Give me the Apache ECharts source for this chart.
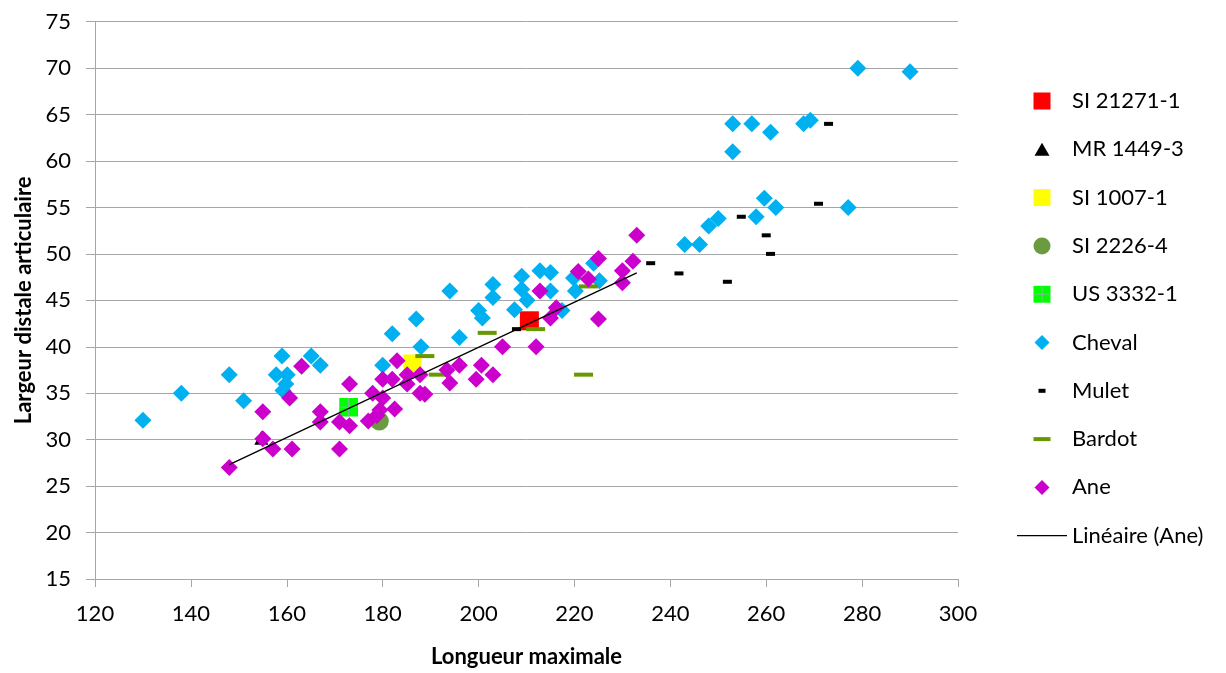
<!DOCTYPE html>
<html>
<head>
<meta charset="utf-8">
<script src="https://cdn.jsdelivr.net/npm/echarts@6/dist/echarts.min.js"></script>
<style>
  html, body { margin: 0; padding: 0; background: #fff; }
  #chart { width: 1226px; height: 673px; }
</style>
</head>
<body>
<div id="chart"></div>
<script>
// axis ranges
const xRange = [120, 300]
const xStep = 20
const yRange = [15, 75]
const yStep = 5

// single specimens
const si21271 = [[210.6, 42.8]]
const mr1449 = [[154.7, 30.2]]
const si1007 = [[186.2, 38.2]]
const si2226 = [[179.3, 32.0]]
const us3332 = [[172.9, 33.5]]

// reference groups
const cheval = [
  [130.0, 32.1], [138.0, 35.0], [148.0, 37.0], [151.0, 34.2], [159.0, 39.0], [165.1, 39.0],
  [167.0, 38.0], [157.8, 37.0], [160.1, 37.0], [159.8, 36.0], [159.2, 35.3],
  [182.0, 41.4], [187.0, 43.0], [196.0, 41.0], [188.0, 40.0], [180.0, 38.0], [194.0, 46.0],
  [200.0, 43.9], [200.8, 43.1], [203.0, 46.7], [203.0, 45.3], [207.5, 44.0], [209.0, 47.6],
  [209.0, 46.2], [210.1, 45.0], [212.8, 48.2], [215.0, 48.0], [215.0, 46.0], [217.4, 43.9],
  [219.8, 47.4], [220.2, 46.0], [224.0, 49.0], [225.2, 47.1],
  [243.0, 51.0], [246.1, 51.0], [248.0, 53.0], [250.0, 53.8], [253.0, 61.0], [253.0, 64.0],
  [257.0, 64.0], [257.9, 54.0], [259.6, 56.0], [260.9, 63.1], [262.0, 55.0], [267.8, 64.0],
  [269.2, 64.4], [277.1, 55.0], [279.1, 70.0], [290.0, 69.6],
]
const mulet = [
  [207.9, 41.9], [235.9, 49.0], [241.8, 47.9], [251.9, 47.0], [254.8, 54.0],
  [260.0, 52.0], [260.9, 50.0], [270.9, 55.4], [273.0, 64.0],
]
const bardot = [
  [188.8, 39.0], [191.6, 37.0], [201.8, 41.5], [211.9, 41.9], [221.9, 37.0], [222.9, 46.5],
]
const ane = [
  [148.0, 27.0], [155.0, 33.0], [155.0, 30.1], [157.1, 29.0], [160.6, 34.5], [161.1, 29.0],
  [163.1, 37.9], [167.0, 33.0], [167.0, 31.9], [171.0, 31.9], [171.0, 29.0], [173.1, 36.0],
  [173.1, 31.5], [177.0, 32.0], [177.9, 35.0], [178.8, 32.6], [179.4, 33.2], [180.0, 36.5],
  [180.0, 34.5], [182.0, 36.5], [182.5, 33.3], [183.0, 38.5], [185.1, 37.0], [185.1, 36.0],
  [187.8, 37.0], [187.8, 35.0], [188.8, 34.9], [193.4, 37.5], [194.0, 36.1], [196.0, 38.0],
  [199.5, 36.5], [200.6, 38.0], [203.0, 37.0], [205.0, 40.0], [212.0, 40.0], [212.8, 46.0],
  [215.0, 43.1], [216.2, 44.2], [220.8, 48.1], [222.9, 47.3], [225.0, 49.5], [225.0, 43.0],
  [230.0, 48.2], [230.0, 46.9], [232.2, 49.2], [233.0, 52.0],
]

const names = ['SI 21271-1', 'MR 1449-3', 'SI 1007-1', 'SI 2226-4', 'US 3332-1',
  'Cheval', 'Mulet', 'Bardot', 'Ane', 'Linéaire (Ane)']

// linear trendline (least squares) on Ane
function linearFit(pts) {
  const n = pts.length
  let sx = 0, sy = 0, sxx = 0, sxy = 0
  pts.forEach(([x, y]) => { sx += x; sy += y; sxx += x * x; sxy += x * y })
  const b = (n * sxy - sx * sy) / (n * sxx - sx * sx)
  const a = (sy - b * sx) / n
  const xs = pts.map((p) => p[0])
  const x0 = Math.min(...xs), x1 = Math.max(...xs)
  return [[x0, a + b * x0], [x1, a + b * x1]]
}
const trend = linearFit(ane)

function svg(inner, w, h) {
  return 'image://data:image/svg+xml;charset=utf-8,' + encodeURIComponent(
    `<svg xmlns="http://www.w3.org/2000/svg" width="${w}" height="${h}" viewBox="0 0 ${w} ${h}">${inner}</svg>`)
}
const crossSquare = (s) => svg(
  `<rect x="0" y="0" width="${s}" height="${s}" fill="#00ff00"/>` +
  `<line x1="${s / 2}" y1="0" x2="${s / 2}" y2="${s}" stroke="#8ab4a2" stroke-width="1"/>` +
  `<line x1="0" y1="${s / 2}" x2="${s}" y2="${s / 2}" stroke="#8ab4a2" stroke-width="1"/>`, s, s)

// legend icons, 50x18 box
const W = 50, H = 18
const legendIcons = {
  'SI 21271-1': svg('<rect x="16.5" y="0.5" width="17" height="17" fill="#ff0000"/>', W, H),
  'MR 1449-3': svg('<polygon points="25,2.5 32.5,15.5 17.5,15.5" fill="#000"/>', W, H),
  'SI 1007-1': svg('<rect x="16.5" y="0.5" width="17" height="17" fill="#ffff00"/>', W, H),
  'SI 2226-4': svg('<circle cx="25" cy="9" r="8.5" fill="#6b9b3f"/>', W, H),
  'US 3332-1': svg('<rect x="16.5" y="0.5" width="17" height="17" fill="#00ff00"/>' +
    '<line x1="25" y1="0.5" x2="25" y2="17.5" stroke="#8ab4a2"/><line x1="16.5" y1="9" x2="33.5" y2="9" stroke="#8ab4a2"/>', W, H),
  'Cheval': svg('<polygon points="25,1.5 32.5,9 25,16.5 17.5,9" fill="#00b0f0"/>', W, H),
  'Mulet': svg('<rect x="21.5" y="7" width="7" height="4" fill="#000"/>', W, H),
  'Bardot': svg('<rect x="16.5" y="7" width="17" height="4" fill="#669900"/>', W, H),
  'Ane': svg('<polygon points="25,1.5 32.5,9 25,16.5 17.5,9" fill="#cc00cc"/>', W, H),
  'Linéaire (Ane)': svg('<line x1="0" y1="9" x2="50" y2="9" stroke="#000" stroke-width="1.3"/>', W, H),
}

const chart = echarts.init(document.getElementById('chart'))
const font = 'Lato, "Open Sans", sans-serif'
const gridColor = '#a6a6a6'

const scatter = (name, data, symbol, size, color) => ({
  name,
  type: 'scatter',
  data,
  symbol,
  symbolSize: size,
  itemStyle: { color, opacity: 1 },
})

const option = {
  animation: false,
  backgroundColor: '#fff',
  textStyle: { fontFamily: font },
  grid: { left: 95, right: 268, top: 21.7, bottom: 89.7 },
  legend: {
    orient: 'vertical',
    left: 1012,
    top: 84,
    itemWidth: W,
    itemHeight: H,
    itemGap: 24.3,
    selectedMode: false,
    textStyle: { fontFamily: font, fontSize: 22, color: '#000', lineHeight: 24, padding: [0, 0, 0, 0] },
    data: names.map((n) => ({ name: n, icon: legendIcons[n] })),
  },
  xAxis: {
    type: 'value',
    min: xRange[0],
    max: xRange[1],
    interval: xStep,
    name: 'Longueur maximale',
    nameLocation: 'middle',
    nameGap: 67,
    nameTextStyle: { fontFamily: font, fontSize: 22, fontWeight: 'bold', color: '#000' },
    axisLine: { show: true, lineStyle: { color: gridColor, width: 1 } },
    axisTick: { show: true, length: 8, lineStyle: { color: gridColor } },
    axisLabel: { fontFamily: font, fontSize: 22, color: '#000', margin: 24 },
    splitLine: { show: false },
  },
  yAxis: {
    type: 'value',
    min: yRange[0],
    max: yRange[1],
    interval: yStep,
    name: 'Largeur distale articulaire',
    nameLocation: 'middle',
    nameGap: 60,
    nameTextStyle: { fontFamily: font, fontSize: 22, fontWeight: 'bold', color: '#000' },
    axisLine: { show: true, lineStyle: { color: gridColor, width: 1 } },
    axisTick: { show: true, length: 9, lineStyle: { color: gridColor } },
    axisLabel: { fontFamily: font, fontSize: 22, color: '#000', margin: 24 },
    splitLine: { show: true, lineStyle: { color: gridColor, width: 1 } },
  },
  series: [
    scatter('SI 21271-1', si21271, 'rect', 19, '#ff0000'),
    scatter('MR 1449-3', mr1449, 'triangle', 14, '#000000'),
    scatter('SI 1007-1', si1007, 'rect', 18, '#ffff00'),
    scatter('SI 2226-4', si2226, 'circle', 19, '#6b9b3f'),
    scatter('US 3332-1', us3332, crossSquare(19), 19, '#00ff00'),
    scatter('Cheval', cheval, 'diamond', 17, '#00b0f0'),
    scatter('Mulet', mulet, 'rect', [9, 4], '#000000'),
    scatter('Bardot', bardot, 'rect', [19, 4], '#669900'),
    scatter('Ane', ane, 'diamond', 17, '#cc00cc'),
    {
      name: 'Linéaire (Ane)',
      type: 'line',
      data: trend,
      symbol: 'none',
      lineStyle: { color: '#000', width: 1.3 },
      itemStyle: { color: '#000' },
      z: 5,
    },
  ],
}

chart.setOption(option)
window.addEventListener('resize', () => chart.resize())
</script>
</body>
</html>
